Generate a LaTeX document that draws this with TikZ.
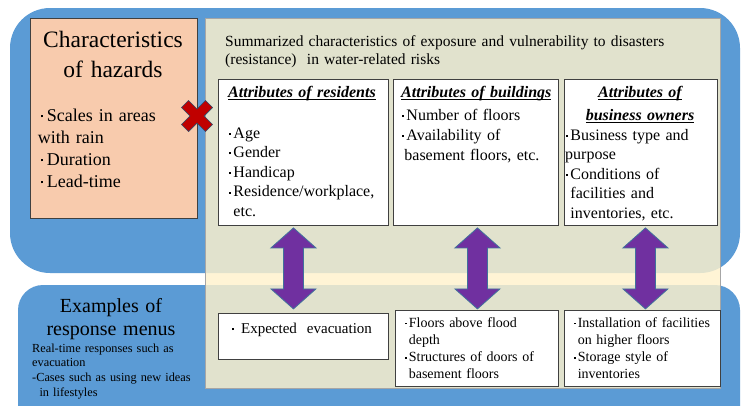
\documentclass[tikz,border=0pt]{standalone}
\usepackage{fontspec}
\setmainfont{Liberation Serif}
\usetikzlibrary{calc}
\definecolor{bluebg}{HTML}{5B9BD5}
\definecolor{panelc}{HTML}{FFF2CC}
\definecolor{hazc}{HTML}{F8CBAD}
\definecolor{purp}{HTML}{7030A0}
\definecolor{arrowedge}{HTML}{41719C}
\definecolor{xred}{HTML}{C00000}
\newcommand\dotglyph{\raisebox{0.2em}{\rule{0.12em}{0.12em}}}
\newcommand\bul{\makebox[0.33em][l]{\hspace{0.05em}\dotglyph}}
\newcommand\hbul{\makebox[0.5em][c]{\dotglyph}}
\newcommand\myul[1]{\leavevmode\setbox0\hbox{#1}\rlap{\rule[-2.6pt]{\wd0}{0.8pt}}\box0}
\newcommand\fs[2]{\fontsize{#1}{#2}\selectfont}
\begin{document}
\begin{tikzpicture}[x=1pt,y=-1pt,
  bluebox/.style={fill=bluebg, draw=none},
  panel/.style={fill=panelc, fill opacity=0.82, draw=gray!70, line width=0.6pt},
  whitebox/.style={fill=white, draw=black!75, line width=0.9pt, inner sep=0pt, anchor=north west},
  txt/.style={inner sep=0pt, anchor=base west, align=left},
  ctxt/.style={inner sep=0pt, anchor=base, align=center},
  dblarrow/.style={fill=purp, draw=arrowedge, line width=0.8pt, line join=miter},
]
\useasboundingbox (0,0) rectangle (744,405);
\fill[white] (0,0) rectangle (744,405);
\clip (0,0) rectangle (744,405);
% blue backgrounds
\draw[bluebox, rounded corners=40pt] (10,8) rectangle (740,273);
\draw[bluebox, rounded corners=25pt] (18,285) rectangle (740,440);
% translucent panel
\draw[panel] (205,18) rectangle (720,388);
% hazards box
\node[whitebox, fill=hazc, minimum width=167pt, minimum height=200pt] (haz) at (30,18) {};
\node[ctxt, text width=165pt, font=\fs{23.5}{30}] (hazT) at (113,47) {Characteristics\\of hazards};
\node[txt, text width=160pt, font=\fs{18}{22}] (hazI) at (37.7,121) {\hbul Scales in areas\\with rain\\\hbul Duration\\\hbul Lead-time};
% red cross
\begin{scope}[shift={(197,116)}, rotate=45]
\draw[fill=xred, draw=arrowedge!70!black, line width=0.6pt] (5,5) -- (5,17) -- (-5,17) -- (-5,5) -- (-17,5) -- (-17,-5) -- (-5,-5) -- (-5,-17) -- (5,-17) -- (5,-5) -- (17,-5) -- (17,5) -- cycle;
\end{scope}
% summary text
\node[txt, text width=470pt, font=\fs{15.5}{18}] (sum) at (225,46) {\makebox[450pt][s]{Summarized characteristics of exposure and vulnerability to disasters}\\(resistance)\ \ in water-related risks};
% top boxes
\node[whitebox, minimum width=170pt, minimum height=146pt] (res) at (218,79) {};
\node[whitebox, minimum width=165pt, minimum height=146pt] (bld) at (393,79) {};
\node[whitebox, minimum width=153pt, minimum height=146pt] (bus) at (564,79) {};
\node[txt, text width=160pt, font=\fs{16}{20}\bfseries\itshape] (resH) at (228,97) {\myul{Attributes of residents}};
\node[txt, text width=158pt, font=\fs{16}{19.6}] (resI) at (228,138) {\bul Age\\\bul Gender\\\bul Handicap\\\bul Residence/workplace,\\\hspace*{0.33em}etc.};
\node[txt, text width=160pt, font=\fs{16}{20}\bfseries\itshape] (bldH) at (401,97) {\myul{Attributes of buildings}};
\node[txt, text width=155pt, font=\fs{16}{20}] (bldI) at (401,120) {\bul Number of floors\\\bul Availability of\\\hspace*{0.2em}basement floors, etc.};
\node[ctxt, text width=150pt, font=\fs{16}{23}\bfseries\itshape] (busH) at (640,97) {\myul{Attributes of}\\\myul{business owners}};
\node[txt, text width=150pt, font=\fs{16}{19.5}] (busI) at (565,140) {\bul Business type and\\purpose\\\bul Conditions of\\\hspace*{0.33em}facilities and\\\hspace*{0.33em}inventories, etc.};
% bottom section
\node[ctxt, text width=180pt, font=\fs{20}{23.5}] (exT) at (111,312) {Examples of\\response menus};
\node[txt, text width=180pt, font=\fs{12.3}{14.7}] (exI) at (32,352) {Real-time responses such as\\evacuation\\-Cases such as using new ideas\\\hspace*{0.6em}in lifestyles};
\node[whitebox, minimum width=170pt, minimum height=46pt] (resB) at (218,313) {};
\node[whitebox, minimum width=163pt, minimum height=76pt] (bldB) at (395,310) {};
\node[whitebox, minimum width=156pt, minimum height=76pt] (busB) at (564,310) {};
\node[txt, text width=160pt, font=\fs{15}{18}] (resBT) at (231,333) {\bul\ Expected\ \ evacuation};
\node[txt, text width=155pt, font=\fs{14}{17.3}] (bldBT) at (404,327) {\bul Floors above flood\\\hspace*{0.33em}depth\\\bul Structures of doors of\\\hspace*{0.33em}basement floors};
\node[txt, text width=150pt, font=\fs{14}{17.3}] (busBT) at (573,327) {\bul Installation of facilities\\\hspace*{0.33em}on higher floors\\\bul Storage style of\\\hspace*{0.33em}inventories};
% double arrows
\draw[dblarrow] ($(res.south)+(-10,2)$) -- ++(22.5,20) -- ++(-12.5,0) -- ++(0,41) -- ++(12.5,0) -- ++(-22.5,20) -- ++(-22.5,-20) -- ++(12.5,0) -- ++(0,-41) -- ++(-12.5,0) -- cycle;
\draw[dblarrow] ($(bld.south)+(1.5,2)$) -- ++(22.5,20) -- ++(-12.5,0) -- ++(0,41) -- ++(12.5,0) -- ++(-22.5,20) -- ++(-22.5,-20) -- ++(12.5,0) -- ++(0,-41) -- ++(-12.5,0) -- cycle;
\draw[dblarrow] ($(bus.south)+(4.5,2)$) -- ++(22.5,20) -- ++(-12.5,0) -- ++(0,41) -- ++(12.5,0) -- ++(-22.5,20) -- ++(-22.5,-20) -- ++(12.5,0) -- ++(0,-41) -- ++(-12.5,0) -- cycle;
\end{tikzpicture}
\end{document}
